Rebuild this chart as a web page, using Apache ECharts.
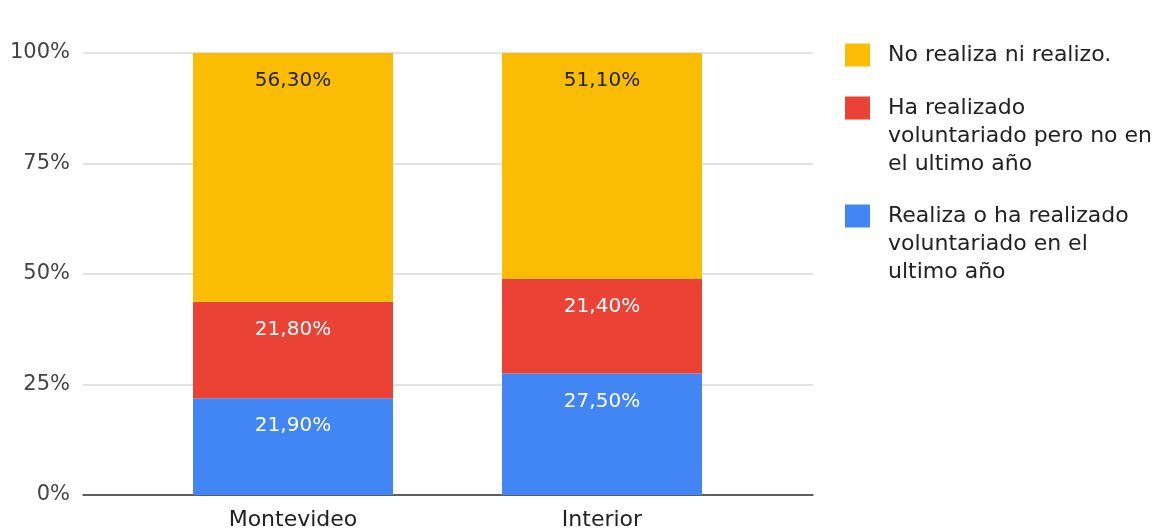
<!DOCTYPE html>
<html>
<head>
<meta charset="utf-8">
<script src="https://cdn.jsdelivr.net/npm/echarts@6/dist/echarts.min.js"></script>
<style>html,body{margin:0;padding:0;background:#fff}#c{width:1156px;height:532px}</style>
</head>
<body>
<div id="c"></div>
<script>
const categories = ['Montevideo', 'Interior'];
const seriesNames = [
  'Realiza o ha realizado voluntariado en el ultimo año',
  'Ha realizado voluntariado pero no en el ultimo año',
  'No realiza ni realizo.'
];
const legendLines = [
  ['Realiza o ha realizado', 'voluntariado en el', 'ultimo año'],
  ['Ha realizado', 'voluntariado pero no en', 'el ultimo año'],
  ['No realiza ni realizo.']
];
const realizaValues = [21.9, 27.5];
const haRealizadoValues = [21.8, 21.4];
const noRealizaValues = [56.3, 51.1];
const yTicks = [0, 25, 50, 75, 100];

const colors = ['#4285f4', '#ea4335', '#fbbc04'];
const labelColors = ['#ffffff', '#ffffff', '#222222'];
const values = [realizaValues, haRealizadoValues, noRealizaValues];
const FONT = 'DejaVu Sans';

function fmt(v) { return v.toFixed(2).replace('.', ',') + '%'; }

const series = seriesNames.map((name, i) => ({
  name: name,
  type: 'bar',
  stack: 'total',
  xAxisIndex: 1,
  yAxisIndex: 1,
  barWidth: 200,
  data: values[i],
  itemStyle: { color: colors[i] },
  label: {
    show: true,
    position: 'insideTop',
    distance: 18,
    color: labelColors[i],
    fontFamily: FONT,
    fontSize: 20,
    formatter: p => fmt(p.value)
  },
  emphasis: { disabled: true }
}));

function makeLegend(idx, top) {
  const lines = legendLines[idx];
  const pad = [];
  for (let k = 1; k < lines.length; k++) pad.push('');
  const text = pad.concat(lines).join('\n');
  return {
    data: [seriesNames[idx]],
    orient: 'vertical',
    left: 845,
    top: top,
    padding: 0,
    icon: 'rect',
    itemWidth: 25,
    itemHeight: 23,
    selectedMode: false,
    formatter: () => text,
    textStyle: {
      fontFamily: FONT,
      fontSize: 22,
      lineHeight: 28,
      color: '#222',
      padding: [0, 0, 0, 13]
    }
  };
}

const chart = echarts.init(document.getElementById('c'), null, { renderer: 'canvas' });
chart.setOption({
  animation: false,
  backgroundColor: '#ffffff',
  legend: [
    makeLegend(2, 41),
    makeLegend(1, 38),
    makeLegend(0, 146)
  ],
  grid: [
    { left: 83, right: 343, top: 53, bottom: 37 },
    { left: 138.5, right: 399.5, top: 53, bottom: 37 }
  ],
  xAxis: [
    {
      gridIndex: 0, type: 'value', min: 0, max: 1,
      axisLine: { show: true, lineStyle: { color: '#333', width: 1.5 } },
      axisTick: { show: false }, axisLabel: { show: false }, splitLine: { show: false }
    },
    {
      gridIndex: 1, type: 'category', data: categories,
      axisLine: { show: false }, axisTick: { show: false },
      axisLabel: { fontFamily: FONT, fontSize: 22, color: '#222', margin: 14 }
    }
  ],
  yAxis: [
    {
      gridIndex: 0, type: 'value', min: yTicks[0], max: yTicks[yTicks.length - 1], interval: 25,
      axisLine: { show: false }, axisTick: { show: false },
      axisLabel: { formatter: '{value}%', fontFamily: FONT, fontSize: 21, color: '#444', margin: 13 },
      splitLine: { lineStyle: { color: '#d9d9d9', width: 1.5 } }
    },
    {
      gridIndex: 1, type: 'value', min: 0, max: 100, show: false
    }
  ],
  series: series
});
</script>
</body>
</html>
